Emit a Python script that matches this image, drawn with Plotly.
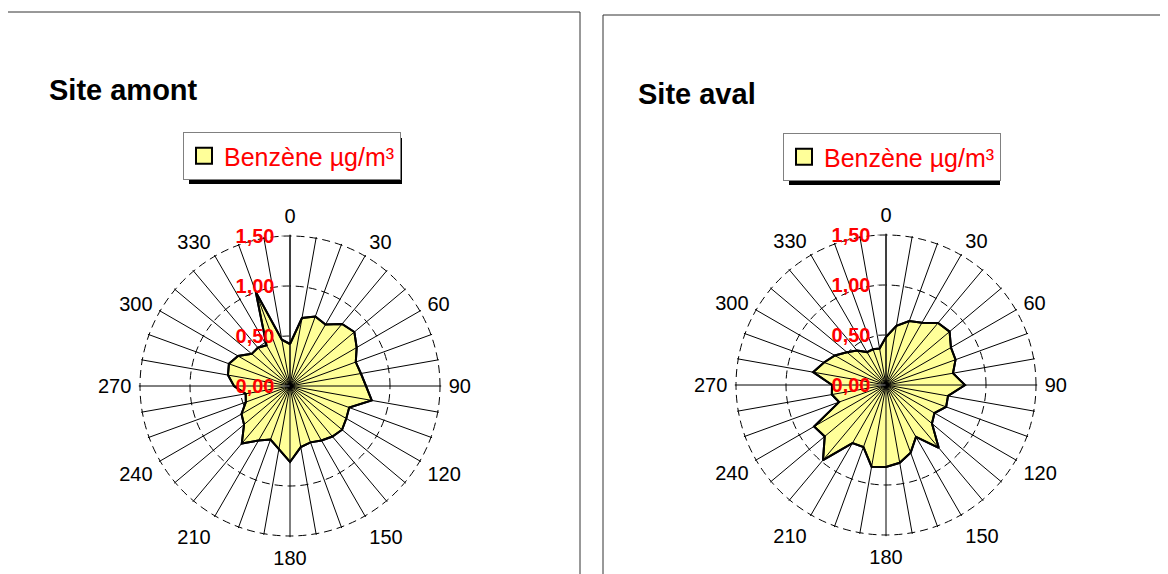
import plotly.graph_objects as go

# ---------------- data ----------------
angles = list(range(0, 360, 10))
amont = [0.42, 0.69, 0.74, 0.71, 0.81, 0.84, 0.77, 0.70, 0.72, 0.76,
         0.83, 0.63, 0.65, 0.68, 0.66, 0.63, 0.60, 0.62, 0.76, 0.64,
         0.57, 0.63, 0.75, 0.60, 0.56, 0.47, 0.45, 0.56, 0.63, 0.65,
         0.60, 0.50, 0.50, 0.47, 1.00, 0.47]
aval = [0.48, 0.60, 0.68, 0.72, 0.81, 0.83, 0.75, 0.74, 0.68, 0.79,
        0.63, 0.64, 0.56, 0.60, 0.82, 0.60, 0.72, 0.79, 0.82, 0.83,
        0.66, 0.67, 0.98, 0.80, 0.83, 0.50, 0.55, 0.54, 0.74, 0.66,
        0.59, 0.51, 0.45, 0.38, 0.38, 0.37]
angle_labels = [str(a) if a % 30 == 0 else "" for a in angles]
radial_ticks = [0, 0.5, 1.0, 1.5]
radial_labels = ["0,00", "0,50", "1,00", "1,50"]
radial_max = 1.512  # a hair past 1.50 so the 1.50 dashed ring is drawn
series_name = "Benzène µg/m³"
titles = ["Site amont", "Site aval"]

# ---------------- layout helpers ----------------
OFF = 8  # page body margin
W, H = 1168 - OFF, 574 - OFF
FONT = "Arial, Liberation Sans, sans-serif"


def px(x):
    return (x - OFF) / W


def py(y):
    return 1 - (y - OFF) / H


panels = [
    dict(vals=amont, polar="polar", legend="legend", title=titles[0],
         cx=290, cy=386, title_xy=(47, 90),
         legbox=(183, 132, 396, 178), border=(6, 12, 580, 700)),
    dict(vals=aval, polar="polar2", legend="legend2", title=titles[1],
         cx=886, cy=385, title_xy=(636, 94),
         legbox=(783, 133, 994, 179), border=(603, 15, 1300, 700)),
]
R = 150 * radial_max / 1.5  # pixel radius so that 1.50 sits at 150 px

fig = go.Figure()
shapes = []
annotations = []
layout_extra = {}

for p in panels:
    vals = p["vals"]
    th = angles + [angles[0]]
    rr = vals + [vals[0]]
    # filled area
    fig.add_trace(go.Scatterpolar(
        r=rr, theta=th, mode="lines", fill="toself", fillcolor="#FFFF99",
        line=dict(color="black", width=2), name=series_name, showlegend=False,
        subplot=p["polar"], hoverinfo="skip"))
    # spokes inside the filled area
    rs, ts = [], []
    for a, v in zip(angles, vals):
        rs += [0, v, None]
        ts += [a, a, None]
    fig.add_trace(go.Scatterpolar(
        r=rs, theta=ts, mode="lines", line=dict(color="black", width=1),
        showlegend=False, subplot=p["polar"], hoverinfo="skip"))
    # outline on top
    fig.add_trace(go.Scatterpolar(
        r=rr, theta=th, mode="lines", line=dict(color="black", width=2),
        showlegend=False, subplot=p["polar"], hoverinfo="skip"))
    # legend entry (square swatch)
    fig.add_trace(go.Scatterpolar(
        r=[None], theta=[None], mode="markers", name=series_name,
        marker=dict(symbol="square", size=17, color="#FFFF99",
                    line=dict(color="black", width=2)),
        subplot=p["polar"], legend=p["legend"], hoverinfo="skip"))

    cx, cy = p["cx"], p["cy"]
    layout_extra[p["polar"]] = dict(
        domain=dict(x=[px(cx - R), px(cx + R)], y=[py(cy + R), py(cy - R)]),
        bgcolor="rgba(0,0,0,0)",
        angularaxis=dict(
            rotation=90, direction="clockwise", tickmode="array",
            tickvals=angles, ticktext=angle_labels, showgrid=True,
            gridcolor="black", gridwidth=1, showline=False, ticks="outside",
            ticklen=3, tickcolor="rgba(0,0,0,0)",
            tickfont=dict(family=FONT, size=20, color="black")),
        radialaxis=dict(
            range=[0, radial_max], tickmode="array", tickvals=radial_ticks,
            ticktext=radial_labels, angle=90, tickangle=90, showline=True,
            linecolor="black", linewidth=1, showgrid=True, gridcolor="black",
            gridwidth=1, griddash="8px,5px", ticks="outside", ticklen=8,
            tickcolor="#808080", side="counterclockwise",
            layer="above traces",
            tickfont=dict(family=FONT, size=20, color="red", weight="bold")),
    )
    x0, y0, x1, y1 = p["legbox"]
    layout_extra[p["legend"]] = dict(
        x=px(x0), y=py(y0), xanchor="left", yanchor="top",
        bgcolor="white", bordercolor="#808080", borderwidth=1,
        itemwidth=30, font=dict(family=FONT, size=25, color="red"))
    shapes.append(dict(type="rect", xref="paper", yref="paper",
                       x0=px(x0 + 6), x1=px(x1 + 6), y0=py(y1 + 6), y1=py(y0 + 6),
                       fillcolor="black", line=dict(width=0)))
    bx0, by0, bx1, by1 = p["border"]
    shapes.append(dict(type="rect", xref="paper", yref="paper",
                       x0=px(bx0), x1=px(bx1), y0=py(by1), y1=py(by0),
                       fillcolor="rgba(0,0,0,0)", line=dict(color="#333333", width=1)))
    tx, ty = p["title_xy"]
    annotations.append(dict(text="<b>%s</b>" % p["title"], xref="paper", yref="paper",
                            x=px(tx), y=py(ty), xanchor="left", yanchor="middle",
                            showarrow=False, font=dict(family=FONT, size=29, color="black")))

fig.update_layout(
    width=W, height=H, margin=dict(l=0, r=0, t=0, b=0),
    paper_bgcolor="white", plot_bgcolor="white",
    shapes=shapes, annotations=annotations, **layout_extra)

fig.write_html("out.html")
